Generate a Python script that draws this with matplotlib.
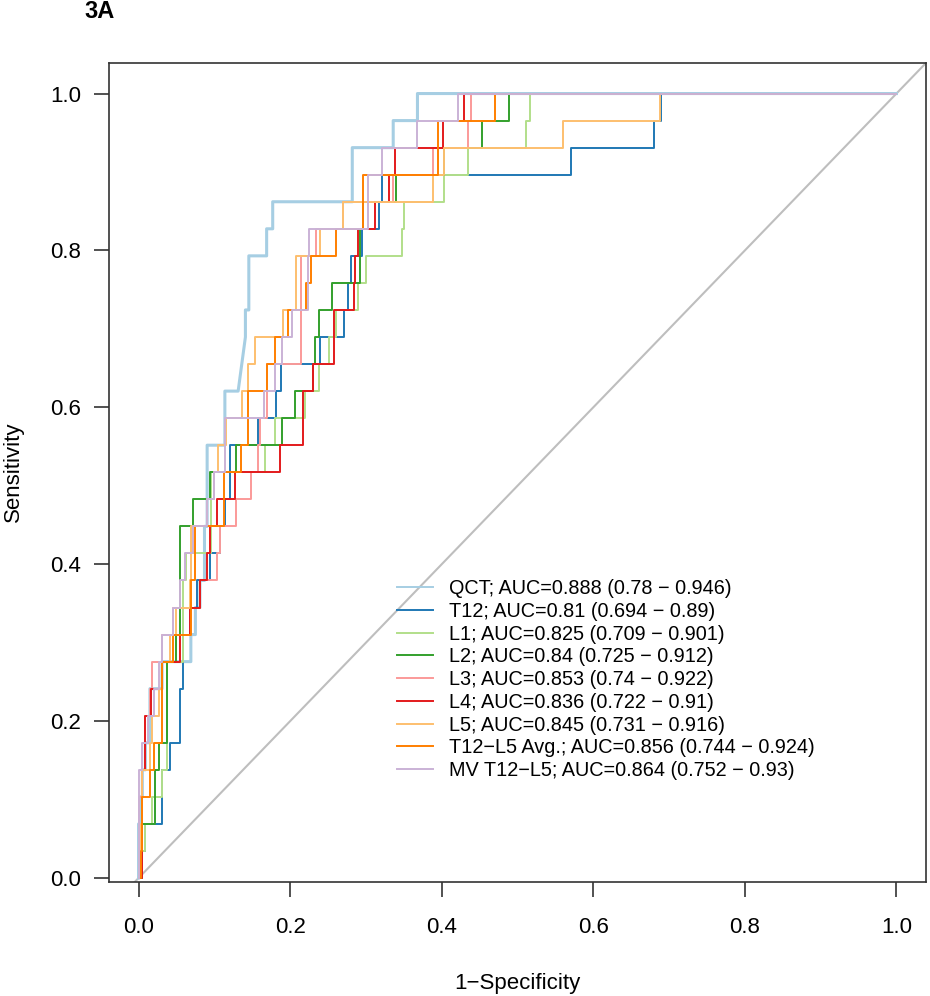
import numpy as np
import matplotlib
matplotlib.use("Agg")
import matplotlib.pyplot as plt

plt.rcParams['font.family'] = ['Liberation Sans', 'DejaVu Sans']

# ---------------- data ----------------
N_POS = 29  # number of positive cases (sensitivity steps of 1/29)

labels = [
    "QCT; AUC=0.888 (0.78 \u2212 0.946)",
    "T12; AUC=0.81 (0.694 \u2212 0.89)",
    "L1; AUC=0.825 (0.709 \u2212 0.901)",
    "L2; AUC=0.84 (0.725 \u2212 0.912)",
    "L3; AUC=0.853 (0.74 \u2212 0.922)",
    "L4; AUC=0.836 (0.722 \u2212 0.91)",
    "L5; AUC=0.845 (0.731 \u2212 0.916)",
    "T12\u2212L5 Avg.; AUC=0.856 (0.744 \u2212 0.924)",
    "MV T12\u2212L5; AUC=0.864 (0.752 \u2212 0.93)",
]
colors = ["#A6CEE3", "#1F78B4", "#B2DF8A", "#33A02C", "#FB9A99",
          "#E31A1C", "#FDBF6F", "#FF7F00", "#CAB2D6"]

# QCT curve vertices (1-specificity, number of detected positives) -- contains tied steps
qct_fpr = [0.0, 0.0, 0.003, 0.003, 0.005, 0.005, 0.009, 0.009, 0.015, 0.015,
           0.031, 0.031, 0.069, 0.069, 0.075, 0.075, 0.081, 0.081, 0.087, 0.087,
           0.0905, 0.0905, 0.1139, 0.1139, 0.1314, 0.141, 0.141, 0.1455, 0.1455,
           0.169, 0.169, 0.177, 0.177, 0.282, 0.282, 0.336, 0.336, 0.368, 0.368, 1.0]
qct_pos = [0, 2, 2, 3, 3, 4, 4, 5, 5, 7,
           7, 8, 8, 9, 9, 10, 10, 11, 11, 13,
           13, 16, 16, 18, 18, 20, 21, 21, 23,
           23, 24, 24, 25, 25, 27, 27, 28, 28, 29, 29]

# For the other markers: 1-specificity at which the k-th positive (k=1..29) is reached
t12 = [0.005, 0.009, 0.031, 0.031, 0.041, 0.055, 0.055, 0.059, 0.059, 0.068,
       0.077, 0.094, 0.107, 0.114, 0.121, 0.121, 0.158, 0.181, 0.188, 0.239,
       0.271, 0.2766, 0.280, 0.295, 0.3166, 0.321, 0.570, 0.680, 0.690]
l1 = [0.005, 0.009, 0.018, 0.031, 0.037, 0.037, 0.037, 0.037, 0.059, 0.059,
      0.059, 0.062, 0.095, 0.095, 0.095, 0.167, 0.180, 0.219, 0.238, 0.2515,
      0.261, 0.290, 0.300, 0.347, 0.350, 0.403, 0.435, 0.511, 0.516]
l2 = [0.005, 0.005, 0.0215, 0.0215, 0.027, 0.037, 0.037, 0.037, 0.050, 0.0545,
      0.0545, 0.0545, 0.0545, 0.072, 0.094, 0.129, 0.189, 0.207, 0.230, 0.233,
      0.238, 0.255, 0.292, 0.292, 0.296, 0.340, 0.403, 0.453, 0.489]
l3 = [0.0, 0.0, 0.0, 0.005, 0.009, 0.009, 0.015, 0.018, 0.031, 0.045,
      0.081, 0.104, 0.107, 0.129, 0.148, 0.158, 0.160, 0.169, 0.169, 0.215,
      0.215, 0.215, 0.215, 0.234, 0.270, 0.336, 0.389, 0.435, 0.438]
l4 = [0.005, 0.005, 0.005, 0.005, 0.009, 0.009, 0.0165, 0.031, 0.0545, 0.068,
      0.081, 0.090, 0.094, 0.104, 0.127, 0.186, 0.217, 0.217, 0.230, 0.258,
      0.258, 0.284, 0.286, 0.290, 0.312, 0.330, 0.339, 0.402, 0.430]
l5 = [0.0, 0.003, 0.005, 0.005, 0.015, 0.018, 0.027, 0.031, 0.041, 0.050,
      0.068, 0.069, 0.069, 0.090, 0.100, 0.105, 0.115, 0.136, 0.145, 0.154,
      0.190, 0.208, 0.208, 0.240, 0.270, 0.389, 0.403, 0.560, 0.688]
avg = [0.003, 0.005, 0.005, 0.015, 0.021, 0.031, 0.031, 0.031, 0.045, 0.069,
       0.069, 0.075, 0.075, 0.1125, 0.1125, 0.135, 0.144, 0.144, 0.170, 0.180,
       0.197, 0.221, 0.228, 0.261, 0.296, 0.296, 0.3945, 0.3945, 0.470]
mv = [0.0, 0.0, 0.0, 0.0, 0.005, 0.012, 0.021, 0.027, 0.031, 0.045,
      0.055, 0.061, 0.072, 0.090, 0.100, 0.114, 0.114, 0.166, 0.180, 0.189,
      0.202, 0.224, 0.224, 0.225, 0.303, 0.303, 0.321, 0.367, 0.4217]

step_series = [t12, l1, l2, l3, l4, l5, avg, mv]

x_ticks = [0.0, 0.2, 0.4, 0.6, 0.8, 1.0]
y_ticks = [0.0, 0.2, 0.4, 0.6, 0.8, 1.0]


def staircase(reach):
    xs, ys = [0.0], [0.0]
    for k, x in enumerate(reach, start=1):
        xs += [x, x]
        ys += [(k - 1) / N_POS, k / N_POS]
    xs.append(1.0)
    ys.append(1.0)
    return xs, ys


# ---------------- figure ----------------
fig = plt.figure(figsize=(9.30, 9.96), dpi=100)
ax = fig.add_axes([0.1172, 0.1145, 0.8785, 0.8223])

ax.axline((0, 0), (1, 1), color="#BEBEBE", lw=1.5, zorder=1)

lines = []
ln, = ax.plot(qct_fpr, np.array(qct_pos) / N_POS, color=colors[0], lw=2.2, zorder=2)
lines.append(ln)
for i, s in enumerate(step_series, start=1):
    xs, ys = staircase(s)
    ln, = ax.plot(xs, ys, color=colors[i], lw=1.4, zorder=2 + i)
    lines.append(ln)

ax.set_xlim(-0.039, 1.039)
ax.set_ylim(-0.005, 1.039)
ax.set_xticks(x_ticks)
ax.set_yticks(y_ticks)
ax.set_xticklabels([f"{v:.1f}" for v in x_ticks])
ax.set_yticklabels([f"{v:.1f}" for v in y_ticks])
ax.tick_params(axis="both", direction="out", length=11, width=1.1,
               labelsize=16, color="#222222")
ax.tick_params(axis="x", pad=14)
ax.tick_params(axis="y", pad=9)
for sp in ax.spines.values():
    sp.set_linewidth(1.2)
    sp.set_color("#333333")

leg = ax.legend(lines, labels, loc="upper left",
                bbox_to_anchor=(397 / 930, 1 - 579 / 996),
                bbox_transform=fig.transFigure, frameon=False, fontsize=14.3,
                handlelength=1.8, handletextpad=0.83, labelspacing=0.19,
                borderpad=0, borderaxespad=0)
for h in leg.get_lines():
    h.set_linewidth(1.4)

fig.text(13 / 930, 1 - 472 / 996, "Sensitivity", rotation=90, ha="center",
         va="center", fontsize=16)
fig.text(517.5 / 930, 1 - 983 / 996, "1\u2212Specificity", ha="center",
         va="center", fontsize=16)
fig.text(84 / 930, 1 - 12 / 996, "3A", ha="left", va="center",
         fontsize=17, fontweight="bold")

fig.savefig("out.png", dpi=100)
